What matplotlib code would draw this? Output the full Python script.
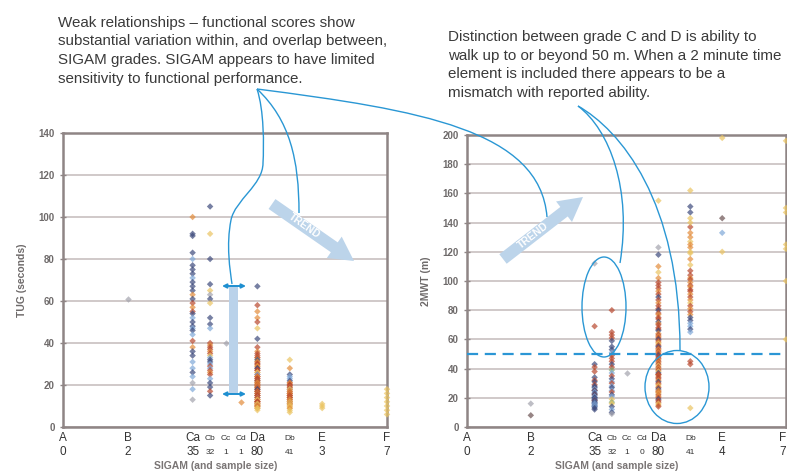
import matplotlib
matplotlib.use("Agg")
import matplotlib.pyplot as plt
from matplotlib.path import Path
from matplotlib.patches import PathPatch, Ellipse, FancyArrow, Rectangle
import numpy as np

plt.rcParams['font.family'] = ['Liberation Sans', 'DejaVu Sans']

# SIGAM grades, where they sit on the x axis, and sample sizes per panel
grades = ['A', 'B', 'Ca', 'Cb', 'Cc', 'Cd', 'Da', 'Db', 'E', 'F']
grade_pos = [0, 1, 2, 2.27, 2.51, 2.75, 3, 3.5, 4, 5]
small_grades = ['Cb', 'Cc', 'Cd', 'Db']
n_tug = ['0', '2', '35', '32', '1', '1', '80', '41', '3', '7']
n_mwt = ['0', '2', '35', '32', '1', '0', '80', '41', '4', '7']

# TUG (seconds) per grade
tug = {
    'A': [],
    'B': [61],
    'Ca': [100, 92, 91, 83, 80, 77, 75, 73, 71, 69, 67, 65, 63, 61, 59, 57, 55, 54, 52, 50,
           48, 47, 46, 44, 41, 38, 36, 34, 31, 28, 26, 24, 21, 18, 13],
    'Cb': [105, 92, 80, 68, 65, 63, 61, 59, 52, 49, 47, 40, 39, 38, 37, 36, 35, 34, 33, 32,
           31, 30, 29, 28, 27, 26, 25, 23, 21, 19, 17, 15],
    'Cc': [40],
    'Cd': [12],
    'Da': [67, 58, 55, 52, 50, 47, 42, 38, 36, 35, 34, 33, 33, 32, 32, 31, 31, 30, 30, 29,
           29, 28, 28, 27, 27, 26, 26, 25, 25, 24, 24, 24, 23, 23, 22, 22, 22, 21, 21, 21,
           20, 20, 20, 19, 19, 19, 18, 18, 18, 17, 17, 17, 16, 16, 16, 15, 15, 15, 14, 14,
           14, 13, 13, 13, 12, 12, 12, 12, 11, 11, 11, 11, 10, 10, 10, 10, 9, 9, 9, 8],
    'Db': [32, 28, 25, 24, 23, 22, 21, 21, 20, 20, 19, 19, 18, 18, 18, 17, 17, 16, 16, 16,
           15, 15, 15, 14, 14, 14, 13, 13, 13, 12, 12, 12, 11, 11, 11, 10, 10, 9, 9, 8, 7],
    'E': [11, 10, 9],
    'F': [18, 16, 14, 12, 10, 8, 6],
}
tug_grp = {
    'A': '', 'B': 'g',
    'Ca': 'onnnbnnnbn' 'nnonrornbn' 'nbnbronnbb' 'nbgbg',
    'Cb': 'nynnygnynn' 'brorrorybn' 'nbrbrorbnn' 'rn',
    'Cc': 'g', 'Cd': 'o',
    'Da': 'nroorynror' 'rorynrorro' 'ornrroyrbr' 'rorrnoryro'
          'rroryrornr' 'orryrorrbo' 'roryrorryo' 'ryoyroyoyy',
    'Db': 'yonbbnrorr' 'orbryrorro' 'rorroryroo' 'ryoryoyyoy' 'y',
    'E': 'yyy', 'F': 'yyyyyyy',
}

# 2MWT (m) per grade
mwt = {
    'A': [],
    'B': [8, 16],
    'Ca': [112, 69, 43, 41, 38, 34, 32, 31, 29, 28, 27, 26, 25, 25, 24, 23, 22, 22, 21, 20,
           20, 19, 19, 18, 18, 17, 17, 16, 16, 15, 15, 14, 14, 13, 12],
    'Cb': [80, 65, 63, 61, 59, 55, 53, 51, 49, 47, 45, 43, 41, 39, 37, 35, 33, 31, 30, 28,
           27, 25, 24, 22, 21, 19, 17, 16, 14, 12, 10, 9],
    'Cc': [37],
    'Cd': [],
    'Da': [155, 123, 118, 110, 106, 102, 99, 97, 95, 93, 91, 89, 87, 85, 83, 81, 80, 78, 77, 75,
           74, 72, 71, 70, 68, 67, 66, 64, 63, 62, 61, 60, 59, 58, 57, 56, 55, 54, 53, 52,
           51, 50, 49, 48, 47, 46, 45, 44, 43, 42, 41, 40, 39, 38, 37, 36, 35, 34, 33, 32,
           31, 30, 29, 28, 27, 26, 25, 24, 23, 22, 21, 20, 19, 18, 17, 16, 15, 14, 36, 24],
    'Db': [162, 151, 147, 143, 137, 133, 130, 127, 123, 119, 115, 111, 107, 104, 102, 101, 99, 97,
           96, 94, 93, 91, 89, 87, 85, 83, 81, 79, 77, 75, 73, 71, 69, 67, 65, 45, 43, 120, 125,
           140, 13],
    'E': [198, 143, 133, 120],
    'F': [196, 150, 147, 125, 122, 100, 60],
}
mwt_grp = {
    'A': '', 'B': 'kg',
    'Ca': 'grnrrnrnrn' 'nbrnbnrnbn' 'nbnrnbnnbn' 'bnbnn',
    'Cb': 'rrrrnnnbrr' 'rnrebrnbrb' 'nbrnbyeynb' 'ng',
    'Cc': 'g', 'Cd': '',
    'Da': 'ygnoyorrro' 'rnrorrnror' 'rnorrrnoro' 'rnroyrnror'
          'ornrrorory' 'rorynrorro' 'nroyrnoryr' 'ornrryorro',
    'Db': 'ynnyrooyoy' 'oyrrororor' 'roroyroron' 'nbbnbrryoy' 'y',
    'E': 'ykby', 'F': 'yyyyyyy',
}

colors = {'n': '#3d4a7c', 'r': '#b9492f', 'o': '#e38c3b', 'y': '#ebc461',
          'b': '#7fa8d8', 'g': '#a3a3ad', 'k': '#6b5252', 'e': '#84a873'}

fig = plt.figure(figsize=(7.87, 4.75), dpi=100)
ax1 = fig.add_axes([63 / 787, 48 / 475, 324 / 787, 294 / 475])
ax2 = fig.add_axes([467 / 787, 48 / 475, 319 / 787, 292 / 475])


def panel(ax, data, grp, ns, ymax, ylabel, edge_right=False):
    for g, xp in zip(grades, grade_pos):
        vals = data[g]
        if not vals:
            continue
        cs = [colors[c] for c in grp[g]]
        ax.scatter([xp] * len(vals), vals, s=11, marker='D', c=cs, alpha=0.7,
                   linewidths=0, zorder=3, clip_on=False)
    ax.set_xlim(0, 5)
    ax.set_ylim(0, ymax)
    ax.set_yticks(np.arange(0, ymax + 1, 20))
    ax.yaxis.grid(True, color='#cdc5c5', lw=1.3)
    ax.set_axisbelow(True)
    ax.set_xticks([])
    ax.tick_params(axis='y', labelsize=7, labelcolor='#6e6a6a', color='#8f8585',
                   direction='inout', length=5, width=1)
    for lab in ax.get_yticklabels():
        lab.set_fontweight('bold')
    for sp in ax.spines.values():
        sp.set_color('#8f8585')
        sp.set_linewidth(1.8)
    hpx = ax.get_position().height * 475
    for g, xp, n in zip(grades, grade_pos, ns):
        fs = 6 if g in small_grades else 8.5
        ha = 'center'
        if edge_right and g == 'F':
            ha = 'right'
        ax.text(xp, -11 / hpx, g, transform=ax.get_xaxis_transform(), ha=ha,
                va='center', fontsize=fs, color='#333333')
        ax.text(xp, -25 / hpx, n, transform=ax.get_xaxis_transform(), ha=ha,
                va='center', fontsize=fs, color='#333333')
    ax.text(0.47, -39 / hpx, 'SIGAM (and sample size)', transform=ax.transAxes,
            ha='center', va='center', fontsize=7.5, fontweight='bold', color='#7a7575')
    ax.set_ylabel(ylabel, fontsize=7.5, fontweight='bold', color='#6e6a6a', labelpad=8)


panel(ax1, tug, tug_grp, n_tug, 140, 'TUG (seconds)')
panel(ax2, mwt, mwt_grp, n_mwt, 200, '2MWT (m)', edge_right=True)
ax2.axhline(50, color='#2b96d5', lw=1.6, ls=(0, (5, 3)), zorder=4, clip_on=False)

# annotation layer in pixel coordinates
ov = fig.add_axes([0, 0, 1, 1])
ov.set_xlim(0, 787)
ov.set_ylim(475, 0)
ov.axis('off')
ov.patch.set_alpha(0)

note1 = ['Weak relationships \u2013 functional scores show',
         'substantial variation within, and overlap between,',
         'SIGAM grades. SIGAM appears to have limited',
         'sensitivity to functional performance.']
note2 = ['Distinction between grade C and D is ability to',
         'walk up to or beyond 50 m. When a 2 minute time',
         'element is included there appears to be a',
         'mismatch with reported ability.']
for i, line in enumerate(note1):
    ov.text(58, 27 + i * 18.5, line, fontsize=10.9, color='#3a3a3a', va='baseline')
for i, line in enumerate(note2):
    ov.text(448, 41 + i * 18.6, line, fontsize=10.9, color='#3a3a3a', va='baseline')

blue = '#2a97d4'


def curve(pts):
    codes = [Path.MOVETO] + [Path.CURVE4] * (len(pts) - 1)
    ov.add_patch(PathPatch(Path(pts, codes), fc='none', ec=blue, lw=1.0, zorder=6))


curve([(257, 89), (264, 110), (264, 145), (263, 163),
       (263, 185), (235, 200), (231, 220),
       (226, 245), (230, 270), (232, 284)])
curve([(257, 89), (290, 120), (299, 160), (299, 213)])
curve([(257, 89), (420, 110), (540, 130), (547, 217)])
curve([(578, 106), (610, 130), (632, 190), (620, 263)])
curve([(578, 106), (620, 130), (680, 200), (680, 350)])

ov.add_patch(Ellipse((604, 307), 44, 100, fc='none', ec=blue, lw=1.0, zorder=6))
ov.add_patch(Ellipse((677, 387), 64, 73, fc='none', ec=blue, lw=1.0, zorder=6))

# range bracket in the left panel
ov.add_patch(Rectangle((229, 286), 9, 108, fc='#bad2ea', ec='none', zorder=5))
for yy in (286, 394):
    ov.annotate('', xy=(222, yy), xytext=(246, yy),
                arrowprops=dict(arrowstyle='<|-|>', color='#1f8fd0', lw=1.4,
                                mutation_scale=6, shrinkA=0, shrinkB=0), zorder=6)

# TREND arrows
trend_c = '#bcd4ea'
ov.add_patch(FancyArrow(272, 204, 82, 57, width=12, head_width=26, head_length=24,
                        length_includes_head=True, fc=trend_c, ec='none', zorder=5))
ov.text(304, 226, 'TREND', rotation=-35, fontsize=7.5, fontweight='bold', color='white',
        ha='center', va='center', rotation_mode='anchor', zorder=6)
ov.add_patch(FancyArrow(503, 259, 80, -62, width=12, head_width=26, head_length=24,
                        length_includes_head=True, fc=trend_c, ec='none', zorder=5))
ov.text(533, 236, 'TREND', rotation=38, fontsize=7.5, fontweight='bold', color='white',
        ha='center', va='center', rotation_mode='anchor', zorder=6)

fig.savefig('out.png', dpi=100)
